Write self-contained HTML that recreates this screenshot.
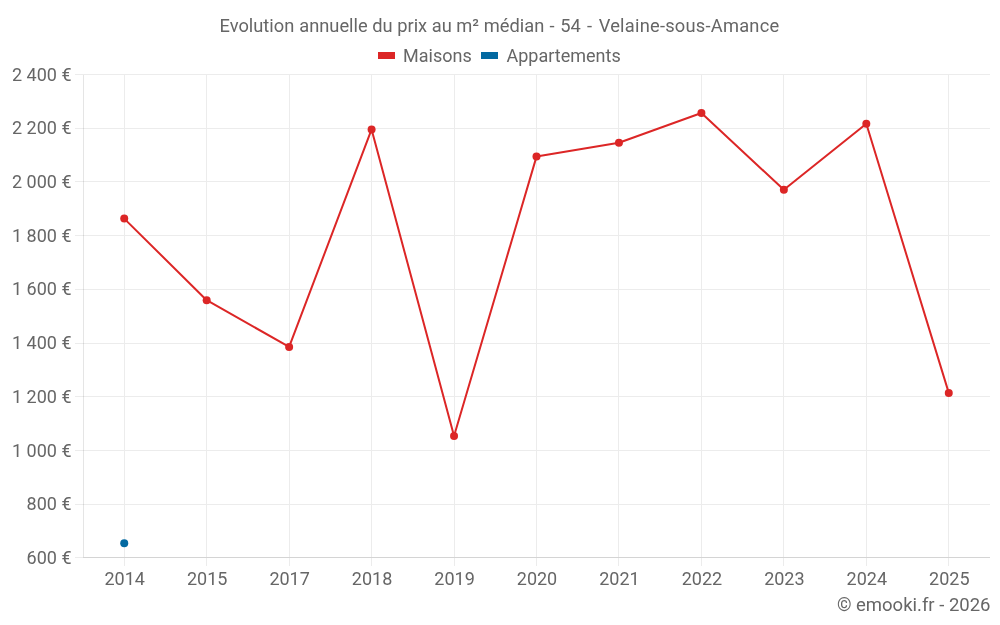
<!DOCTYPE html>
<html><head><meta charset="utf-8"><title>Evolution annuelle du prix au m² médian</title>
<style>
html,body{margin:0;padding:0;background:#fff;width:1000px;height:625px;overflow:hidden}
svg{display:block}
text{font-family:"Roboto","Liberation Sans",sans-serif;fill:#666}
</style></head><body>
<svg width="1000" height="625" viewBox="0 0 1000 625">
<rect width="1000" height="625" fill="#fff"/>
<!-- title -->
<text y="32" font-size="18.3"><tspan x="219.5">Evolution </tspan><tspan x="299.2">annuelle </tspan><tspan x="372.2">du </tspan><tspan x="397.2">prix </tspan><tspan x="431.8">au </tspan><tspan x="456.3">m² </tspan><tspan x="483.8">médian </tspan><tspan x="549.4">- </tspan><tspan x="560.3">54 </tspan><tspan x="586.9">- </tspan><tspan x="598.7" textLength="180.5" lengthAdjust="spacing">Velaine-sous-Amance</tspan></text>
<!-- legend -->
<rect x="378" y="52" width="17" height="7" fill="#dc2626"/>
<text x="403" y="61.5" font-size="18">Maisons</text>
<rect x="481" y="52" width="17" height="7" fill="#0369a1"/>
<text x="506.5" y="61.5" font-size="18">Appartements</text>
<!-- grid -->
<g stroke="#ececec" stroke-width="1" fill="none">
<path d="M75 74.5H990M75 128.5H990M75 181.5H990M75 235.5H990M75 289.5H990M75 343.5H990M75 396.5H990M75 450.5H990M75 504.5H990M75 557.5H990"/>
<path d="M124.5 74V566M206.5 74V566M289.5 74V566M371.5 74V566M454.5 74V566M536.5 74V566M618.5 74V566M701.5 74V566M783.5 74V566M866.5 74V566M948.5 74V566"/>
</g>
<path d="M83.5 75V557M83 557.5H990" stroke="rgba(0,0,0,0.1)" stroke-width="1" fill="none"/>
<!-- y labels -->
<g font-size="18" text-anchor="end">
<text x="71.5" y="80.5">2 400 €</text>
<text x="71.5" y="134.2">2 200 €</text>
<text x="71.5" y="187.9">2 000 €</text>
<text x="71.5" y="241.6">1 800 €</text>
<text x="71.5" y="295.3">1 600 €</text>
<text x="71.5" y="349.1">1 400 €</text>
<text x="71.5" y="402.8">1 200 €</text>
<text x="71.5" y="456.5">1 000 €</text>
<text x="71.5" y="510.2">800 €</text>
<text x="71.5" y="563.9">600 €</text>
</g>
<!-- x labels -->
<g font-size="18" text-anchor="middle">
<text x="124.73" y="585.3">2014</text>
<text x="207.18" y="585.3">2015</text>
<text x="289.64" y="585.3">2017</text>
<text x="372.09" y="585.3">2018</text>
<text x="454.55" y="585.3">2019</text>
<text x="537.00" y="585.3">2020</text>
<text x="619.45" y="585.3">2021</text>
<text x="701.91" y="585.3">2022</text>
<text x="784.36" y="585.3">2023</text>
<text x="866.82" y="585.3">2024</text>
<text x="949.27" y="585.3">2025</text>
</g>
<text x="990.5" y="610.5" font-size="18.5" text-anchor="end">© emooki.fr - 2026</text>
<!-- series -->
<polyline fill="none" stroke="#dc2626" stroke-width="2" stroke-linejoin="round" points="124.23,218.6 206.68,300.2 289.14,346.9 371.59,129.4 454.05,436.0 536.5,156.6 618.95,142.7 701.41,113.0 783.86,189.8 866.32,123.8 948.77,392.9"/>
<g fill="#dc2626">
<circle cx="124.23" cy="218.6" r="4"/><circle cx="206.68" cy="300.2" r="4"/><circle cx="289.14" cy="346.9" r="4"/><circle cx="371.59" cy="129.4" r="4"/><circle cx="454.05" cy="436.0" r="4"/><circle cx="536.5" cy="156.6" r="4"/><circle cx="618.95" cy="142.7" r="4"/><circle cx="701.41" cy="113.0" r="4"/><circle cx="783.86" cy="189.8" r="4"/><circle cx="866.32" cy="123.8" r="4"/><circle cx="948.77" cy="392.9" r="4"/>
</g>
<circle cx="124.23" cy="543.2" r="4" fill="#0369a1"/>
</svg>
</body></html>
